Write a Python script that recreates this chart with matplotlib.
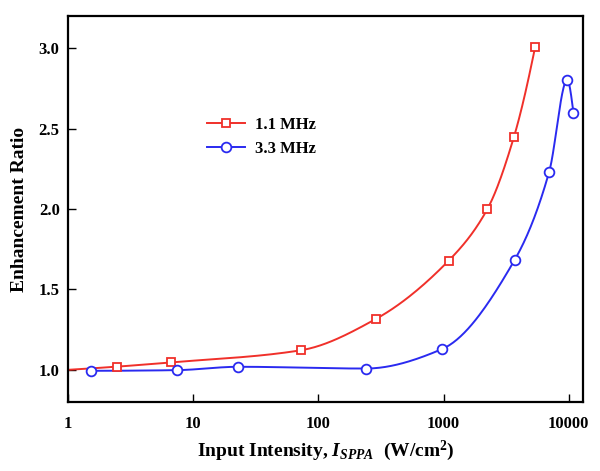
import numpy as np
import matplotlib
matplotlib.use("Agg")
import matplotlib.pyplot as plt

# ---- data ----
x_11 = [2.48, 6.6, 72.8, 286, 1096, 2233, 3654, 5384]
y_11 = [1.02, 1.046, 1.122, 1.315, 1.678, 1.998, 2.45, 3.006]
line_start_11 = (1.0, 1.0)

x_33 = [1.54, 7.39, 23.0, 238, 972, 3707, 6980, 9720, 10890]
y_33 = [0.994, 0.998, 1.019, 1.008, 1.129, 1.685, 2.232, 2.803, 2.60]

labels = ["1.1 MHz", "3.3 MHz"]
xticks = [1, 10, 100, 1000, 10000]
xticklabels = ["1", "10", "100", "1000", "10000"]
yticks = [1.0, 1.5, 2.0, 2.5, 3.0]

plt.rcParams['font.family'] = ['Liberation Serif', 'DejaVu Serif']
plt.rcParams['font.weight'] = 'bold'
plt.rcParams['mathtext.fontset'] = 'custom'
plt.rcParams['mathtext.rm'] = 'Liberation Serif:bold'
plt.rcParams['mathtext.it'] = 'Liberation Serif:italic:bold'
plt.rcParams['mathtext.bf'] = 'Liberation Serif:bold'


def smooth(xs, ys, n=40):
    """Monotone (PCHIP) cubic through the points in log10(x)."""
    x = np.log10(np.asarray(xs, float))
    y = np.asarray(ys, float)
    h = np.diff(x)
    d = np.diff(y) / h
    m = np.zeros_like(y)
    for k in range(1, len(y) - 1):
        if d[k - 1] * d[k] > 0:
            w1 = 2 * h[k] + h[k - 1]
            w2 = h[k] + 2 * h[k - 1]
            m[k] = (w1 + w2) / (w1 / d[k - 1] + w2 / d[k])
    # end slopes
    def end(h0, h1, d0, d1):
        s = ((2 * h0 + h1) * d0 - h0 * d1) / (h0 + h1)
        if np.sign(s) != np.sign(d0):
            s = 0.0
        elif np.sign(d0) != np.sign(d1) and abs(s) > abs(3 * d0):
            s = 3 * d0
        return s
    m[0] = end(h[0], h[1], d[0], d[1])
    m[-1] = end(h[-1], h[-2], d[-1], d[-2])
    X, Y = [], []
    for k in range(len(h)):
        t = np.linspace(0, 1, n)
        h00 = 2 * t**3 - 3 * t**2 + 1
        h10 = t**3 - 2 * t**2 + t
        h01 = -2 * t**3 + 3 * t**2
        h11 = t**3 - t**2
        yy = h00 * y[k] + h10 * h[k] * m[k] + h01 * y[k + 1] + h11 * h[k] * m[k + 1]
        xx = x[k] + t * h[k]
        if k > 0:
            xx, yy = xx[1:], yy[1:]
        X.append(xx)
        Y.append(yy)
    return 10 ** np.concatenate(X), np.concatenate(Y)


fig = plt.figure(figsize=(6.0, 4.71), dpi=100)
ax = fig.add_axes([0.1133, 0.1465, 0.8584, 0.8195])

red = '#f0302a'
blue = '#2a2af0'

sx, sy = smooth([line_start_11[0]] + x_11, [line_start_11[1]] + y_11)
ax.plot(sx, sy, color=red, lw=1.4, zorder=2)
ax.plot(x_11, y_11, ls='none', marker='s', ms=6.3, mfc='white', mec=red, mew=1.3, zorder=3)
sx, sy = smooth(x_33, y_33)
ax.plot(sx, sy, color=blue, lw=1.4, zorder=2)
ax.plot(x_33, y_33, ls='none', marker='o', ms=7, mfc='white', mec=blue, mew=1.3, zorder=3)

# legend proxies
ax.plot([], [], color=red, lw=1.4, marker='s', ms=6.3, mfc='white', mec=red, mew=1.3, label=labels[0])
ax.plot([], [], color=blue, lw=1.4, marker='o', ms=7, mfc='white', mec=blue, mew=1.3, label=labels[1])
h, l = ax.get_legend_handles_labels()
ax.legend(h, l, loc='upper left', bbox_to_anchor=(0.24, 0.778), frameon=False,
          prop={'family': 'Liberation Serif', 'weight': 'bold', 'size': 12},
          handlelength=2.3, handletextpad=0.6, labelspacing=0.5)

ax.set_xscale('log')
ax.set_xlim(1, 13000)
ax.set_ylim(0.8, 3.2)
ax.set_xticks(xticks)
ax.set_xticklabels(xticklabels)
ax.xaxis.set_minor_locator(matplotlib.ticker.NullLocator())
ax.set_yticks(yticks)
ax.set_yticklabels([f"{v:.1f}" for v in yticks])
ax.tick_params(direction='in', length=5.5, width=1.0, labelsize=12, pad=10)
ax.tick_params(axis='y', pad=6)
for s in ax.spines.values():
    s.set_linewidth(1.6)

ax.set_xlabel(r"Input Intensity, $I_{SPPA}$  (W/cm$^2$)", fontsize=14, fontweight='bold', labelpad=5)
ax.set_ylabel("Enhancement Ratio", fontsize=14, fontweight='bold', labelpad=8)

fig.savefig("out.png", dpi=100)
